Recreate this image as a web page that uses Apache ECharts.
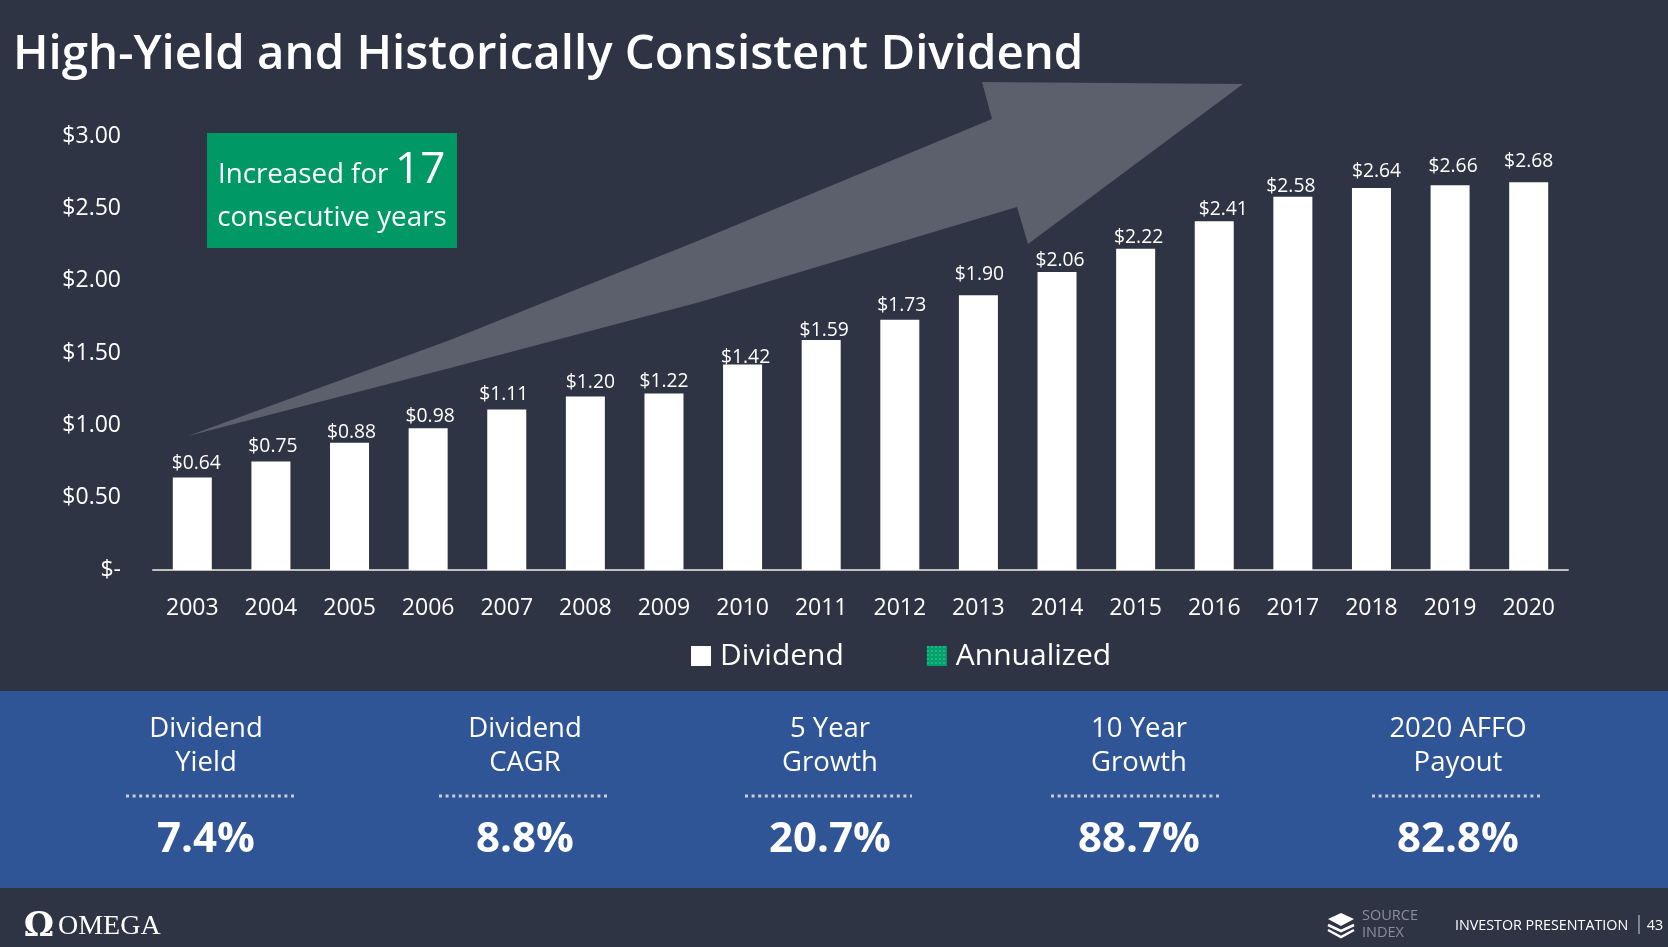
<!DOCTYPE html>
<html><head><meta charset="utf-8">
<style>html,body{margin:0;padding:0;background:#2f3444}#c{width:1668px;height:947px}</style>
<script src="https://cdn.jsdelivr.net/npm/echarts@6/dist/echarts.min.js"></script>
</head><body><div id="c"></div>
<script>
const years = ['2003','2004','2005','2006','2007','2008','2009','2010','2011','2012','2013','2014','2015','2016','2017','2018','2019','2020'];
const dividend = [0.64,0.75,0.88,0.98,1.11,1.20,1.22,1.42,1.59,1.73,1.90,2.06,2.22,2.41,2.58,2.64,2.66,2.68];
const annualized = [];
const statNames = [['Dividend','Yield'],['Dividend','CAGR'],['5 Year','Growth'],['10 Year','Growth'],['2020 AFFO','Payout']];
const statValues = ['7.4%','8.8%','20.7%','88.7%','82.8%'];

const labelNudgeX = [4,2,2,2,-3,5,0,3,3,2,1,3,3,9,-2,5,3,0];
const labelNudgeY = [-4,-5,-1,-2,-5,-4,-2,2,0,-5,-11,-2,-2,-2,-1,-7,-9,-11];
const statCentres = [206,525,830,1139,1458];
const statRules = [[126,294],[439,607],[745,912],[1051,1219],[1372,1540]];

const F = '"Open Sans","Noto Sans",sans-serif';
const W = '#ffffff';
const txt = (x,y,text,size,opt={}) => ({type:'text',x,y,z:5,silent:true,style:Object.assign({text,fontFamily:F,fontSize:size,fill:W,align:'center',verticalAlign:'middle'},opt)});
const stroke = (points) => ({type:'polyline',z:5,silent:true,shape:{points},style:{fill:null,stroke:W,lineWidth:2.5}});

const graphic = [
  {type:'rect',z:0,silent:true,shape:{x:0,y:691,width:1668,height:197},style:{fill:'#2f5597'}},
  {type:'polygon',z:1,silent:true,shape:{points:[[188,436],[450,340],[700,240],[992,119],[982,82],[1243,84],[1028,244],[1017,207],[700,302],[450,368]]},style:{fill:'#5b606c'}},
  {type:'rect',z:3,silent:true,shape:{x:207,y:133,width:250,height:115},style:{fill:'#009966'}},
  txt(218,175,'Increased for',27.7,{align:'left'}),
  txt(395,170,'17',44,{align:'left'}),
  txt(332,218,'consecutive years',27.8),
  // footer
  txt(39,927,'Ω',34,{fontFamily:'"DejaVu Serif",serif',fontWeight:'bold'}),
  txt(58,927,'OMEGA',28,{fontFamily:'"Liberation Serif",serif',align:'left'}),
  {type:'polygon',z:5,silent:true,shape:{points:[[1341,913],[1354,919],[1341,926],[1328,919]]},style:{fill:W}},
  stroke([[1328,925],[1341,931],[1354,925]]),
  stroke([[1328,930],[1341,937],[1354,930]]),
  txt(1362,916,'SOURCE',14.5,{align:'left',fill:'#8a8f9a'}),
  txt(1362,933,'INDEX',14.5,{align:'left',fill:'#8a8f9a'}),
  txt(1455,926,'INVESTOR PRESENTATION',14.3,{align:'left'}),
  {type:'line',z:5,silent:true,shape:{x1:1639,y1:915,x2:1639,y2:934},style:{stroke:'#9aa0aa',lineWidth:1.5}},
  txt(1655,926,'43',14.3)
];
statNames.forEach((lines,i)=>{
  graphic.push(txt(statCentres[i],729,lines[0],27.5));
  graphic.push(txt(statCentres[i],763,lines[1],27.5));
  graphic.push({type:'line',z:5,silent:true,shape:{x1:statRules[i][0],y1:796,x2:statRules[i][1],y2:796},style:{stroke:'#c9cdd6',lineWidth:3,lineDash:[3,3.6]}});
  graphic.push(txt(statCentres[i],840,statValues[i],42,{fontWeight:'bold'}));
});

const chart = echarts.init(document.getElementById('c'),null,{renderer:'canvas'});
chart.setOption({
  animation:false,
  backgroundColor:'#2f3444',
  title:{text:'High-Yield and Historically Consistent Dividend',left:8,top:27,textStyle:{color:W,fontFamily:F,fontSize:47.4,fontWeight:600}},
  grid:{left:153,right:100,top:136,bottom:377},
  legend:{left:686,top:636,itemWidth:20,itemHeight:20,itemGap:83,icon:'rect',data:['Dividend','Annualized'],textStyle:{color:W,fontFamily:F,fontSize:30,padding:[0,0,0,4]}},
  xAxis:{type:'category',data:years,axisTick:{show:false},axisLine:{lineStyle:{color:'#bfbfbf',width:2}},axisLabel:{color:W,fontFamily:F,fontSize:23,margin:27}},
  yAxis:{type:'value',min:0,max:3,interval:0.5,splitLine:{show:false},axisLine:{show:false},axisTick:{show:false},
    axisLabel:{color:W,fontFamily:F,fontSize:23,margin:32,padding:[4,0,0,0],formatter:v=>v===0?'$-':'$'+v.toFixed(2)}},
  series:[
    {name:'Dividend',type:'bar',stack:'d',barWidth:39,z:4,itemStyle:{color:W},
     data:dividend.map((v,i)=>({value:v,label:{offset:[labelNudgeX[i],labelNudgeY[i]]}})),
     label:{show:true,position:'top',distance:0,color:W,fontFamily:F,fontSize:19.3,formatter:p=>'$'+p.value.toFixed(2)}},
    {name:'Annualized',type:'bar',stack:'d',data:annualized,
     itemStyle:{color:'#00a36c',decal:{symbol:'rect',symbolSize:0.6,dashArrayX:[2,2],dashArrayY:[2,2],color:'rgba(255,255,255,0.55)'}}}
  ],
  graphic
});
</script></body></html>
